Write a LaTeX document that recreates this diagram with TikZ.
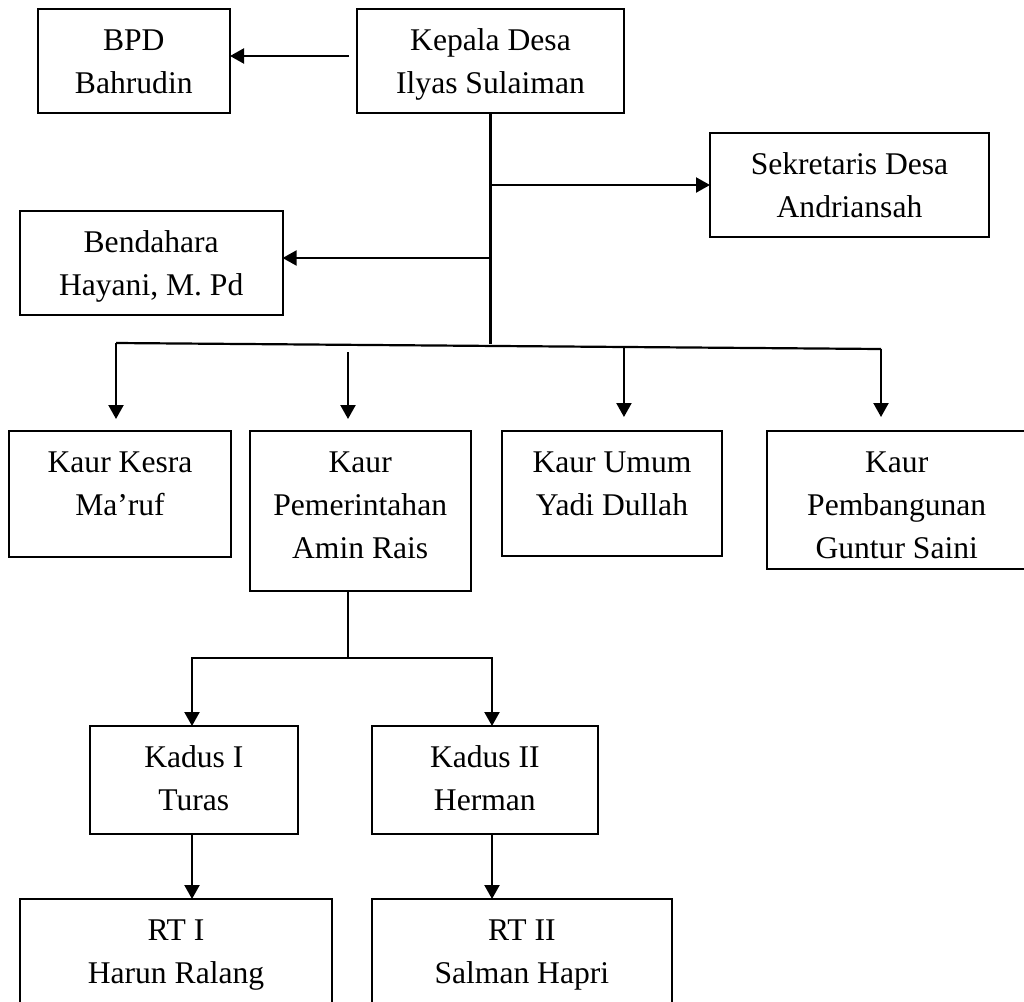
\documentclass[tikz,border=0pt]{standalone}
\usepackage{fontspec}
\setmainfont{Liberation Serif}
\usetikzlibrary{arrows.meta,calc}
\tikzset{
  orgbox/.style={draw, rectangle, line width=2pt, inner sep=0pt, outer sep=0pt},
  orgtext/.style={anchor=base, inner sep=0pt, font=\fontsize{31.6}{43}\selectfont},
  link/.style={line width=2.2pt},
  conn/.style={line width=2.2pt, -{Triangle[length=14pt,width=15pt]}},
}
\newcommand\mkbox[6]{%
  \node[orgbox, anchor=north west, minimum width={(#4)-(#2)}, minimum height={(#5)-(#3)}] (#1) at (#2,#3) {};
  \node[orgtext] (#1-t) at ($(#1.north)+(0,41)$) {\begin{tabular}[t]{@{}c@{}}#6\end{tabular}};
}
\begin{document}
\begin{tikzpicture}[x=1pt,y=-1pt]
\useasboundingbox (0,0) rectangle (1024,1001);
% boxes
\mkbox{bpd}{37.6}{9.3}{230}{113.3}{BPD\\Bahrudin}
\mkbox{kades}{357}{9.3}{624}{113.3}{Kepala Desa\\Ilyas Sulaiman}
\mkbox{sekdes}{710}{133}{989}{237}{Sekretaris Desa\\Andriansah}
\mkbox{bend}{19.8}{211}{282.6}{315}{Bendahara\\Hayani, M. Pd}
\mkbox{kesra}{9.3}{431}{230.7}{557}{Kaur Kesra\\Ma’ruf}
\mkbox{pem}{249.7}{431}{470.7}{590.7}{Kaur\\Pemerintahan\\Amin Rais}
\mkbox{umum}{502}{431}{722}{556}{Kaur Umum\\Yadi Dullah}
\mkbox{pemb}{767}{431}{1026.4}{569}{Kaur\\Pembangunan\\Guntur Saini}
\mkbox{kadusA}{89.7}{726}{298}{834}{Kadus I\\Turas}
\mkbox{kadusB}{371.7}{726}{598}{834}{Kadus II\\Herman}
\mkbox{rtA}{20}{899}{332}{1012}{RT I\\Harun Ralang}
\mkbox{rtB}{371.7}{899}{672}{1012}{RT II\\Salman Hapri}
% helper coordinates
\coordinate (bpdFrom) at ($(kades.west)+(-8,-5.3)$);
\coordinate (spineEnd) at (490.5,344);
\coordinate (bendY) at (0,258);
\coordinate (bus1) at (116,343);
\coordinate (bus4) at (881,349);
\coordinate (a2) at (348,352);
\coordinate (a3) at ($(bus1)!0.664!(bus4)$);
\coordinate (pjoin) at (348,657.7);
\coordinate (cA) at (192,0);
\coordinate (cB) at (492,0);
% connectors
\draw[conn] (bpdFrom) -- (bpdFrom -| bpd.east);
\draw[link] (kades.south) -- (kades.south |- spineEnd);
\draw[conn] (kades.south |- sekdes.west) -- (sekdes.west);
\draw[conn] (kades.south |- bendY) -- (bend.east |- bendY);
\draw[link] (bus1) -- (bus4);
\draw[conn] (bus1) -- ($(kesra.north -| bus1)+(0,-12)$);
\draw[conn] (a2) -- ($(pem.north -| a2)+(0,-12)$);
\draw[conn] (a3) -- ($(umum.north -| a3)+(0,-14)$);
\draw[conn] (bus4) -- ($(pemb.north -| bus4)+(0,-14)$);
\draw[link] (pem.south -| pjoin) -- (pjoin);
\draw[conn] (pjoin) -| (kadusA.north -| cA);
\draw[conn] (pjoin) -| (kadusB.north -| cB);
\draw[conn] (kadusA.south -| cA) -- (rtA.north -| cA);
\draw[conn] (kadusB.south -| cB) -- (rtB.north -| cB);
\end{tikzpicture}
\end{document}
